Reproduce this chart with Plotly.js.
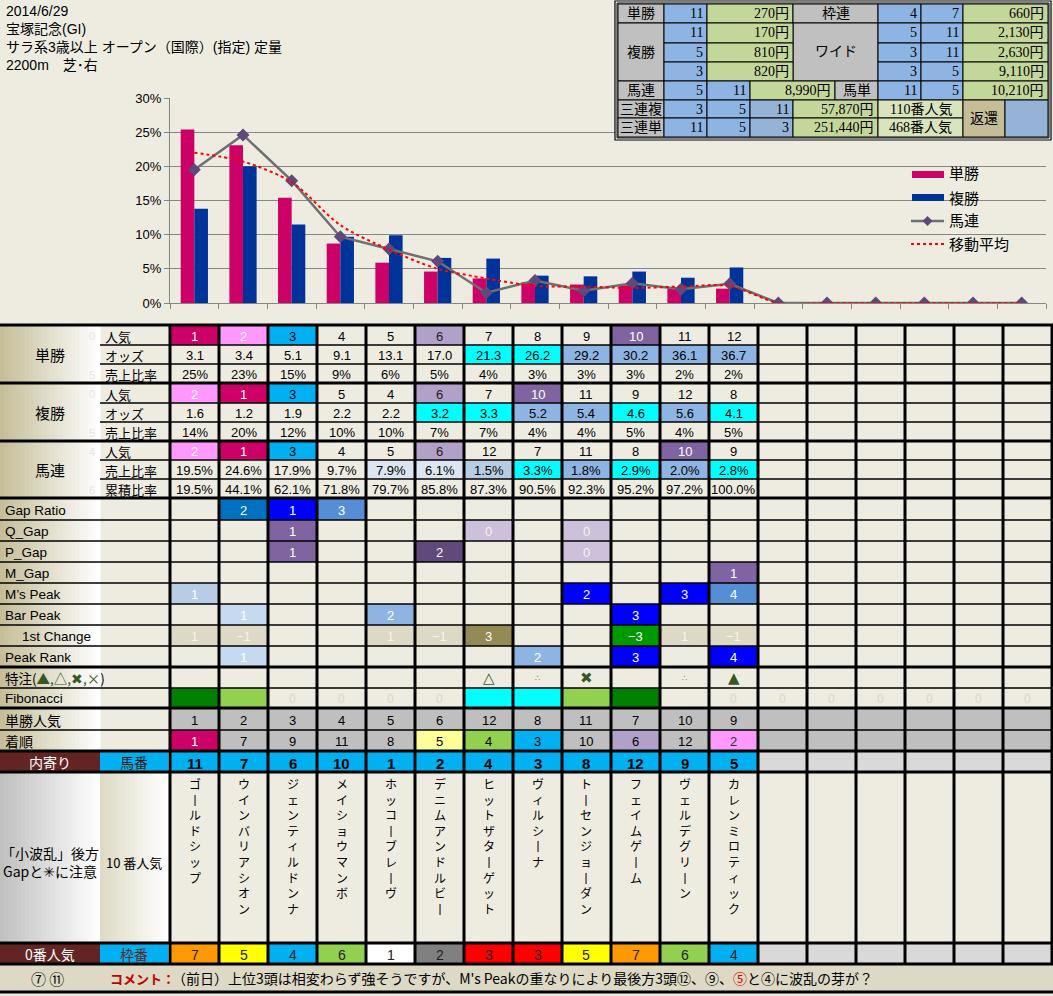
<!DOCTYPE html>
<html>
<head>
<meta charset="utf-8">
<script src="https://cdn.plot.ly/plotly-3.0.1.min.js"></script>
<style>body{margin:0;background:#eeece1}</style>
</head>
<body>
<div id="plotArea" style="width:1053px;height:996px"></div>
<script>
// race header
var header = ["2014/6/29", "宝塚記念(GI)", "サラ系3歳以上 オープン（国際）(指定) 定量", "2200m　芝･右"];

// chart data (18 slots, 12 runners)
var cats = ["1","2","3","4","5","6","7","8","9","10","11","12","13","14","15","16","17","18"];
var tanShare = [25.4, 23.1, 15.4, 8.7, 5.9, 4.6, 3.6, 3.0, 2.7, 2.6, 2.3, 2.1];
var fukuShare = [13.8, 20.0, 11.5, 9.7, 9.9, 6.6, 6.5, 4.0, 3.9, 4.6, 3.7, 5.2];
var umaShare = [19.5, 24.6, 17.9, 9.7, 7.9, 6.1, 1.5, 3.3, 1.8, 2.9, 2.0, 2.8];
var umaLine = [19.5, 24.6, 17.9, 9.7, 7.9, 6.1, 1.5, 3.3, 1.8, 2.9, 2.0, 2.8, 0, 0, 0, 0, 0, 0];
var trend = [22.0, 20.7, 17.7, 11.4, 7.8, 5.0, 3.6, 2.5, 2.4, 2.2, 2.4, 2.5, 0, 0, 0, 0, 0, 0];

// table data
var tanNinki = [1, 2, 3, 4, 5, 6, 7, 8, 9, 10, 11, 12];
var tanOdds = [3.1, 3.4, 5.1, 9.1, 13.1, 17.0, 21.3, 26.2, 29.2, 30.2, 36.1, 36.7];
var fukuNinki = [2, 1, 3, 5, 4, 6, 7, 10, 11, 9, 12, 8];
var fukuOdds = [1.6, 1.2, 1.9, 2.2, 2.2, 3.2, 3.3, 5.2, 5.4, 4.6, 5.6, 4.1];
var umaNinki = [2, 1, 3, 4, 5, 6, 12, 7, 11, 8, 10, 9];
var umaCum = [19.5, 44.1, 62.1, 71.8, 79.7, 85.8, 87.3, 90.5, 92.3, 95.2, 97.2, 100.0];
var umaShareColors = ["", "", "", "", "#dce6f1", "#dce6f1", "#b8cce4", "#00ffff", "#8db4e2", "#00ffff", "#8db4e2", "#00ffff"];

var gapLabels = ["Gap Ratio", "Q_Gap", "P_Gap", "M_Gap", "M’s Peak", "Bar Peak", "1st Change", "Peak Rank"];
var gapRatio = ["", "2", "1", "3", "", "", "", "", "", "", "", ""];
var qGap = ["", "", "1", "", "", "", "0", "", "0", "", "", ""];
var pGap = ["", "", "1", "", "", "2", "", "", "0", "", "", ""];
var mGap = ["", "", "", "", "", "", "", "", "", "", "", "1"];
var msPeak = ["1", "", "", "", "", "", "", "", "2", "", "3", "4"];
var barPeak = ["", "1", "", "", "2", "", "", "", "", "3", "", ""];
var firstChange = ["1", "−1", "", "", "1", "−1", "3", "", "", "−3", "1", "−1"];
var peakRank = ["", "1", "", "", "", "", "", "2", "", "3", "", "4"];
var gapRatioC = ["", "#0070c0", "#0000ff", "#558ed5", "", "", "", "", "", "", "", ""];
var qGapC = ["", "", "#8064a2", "", "", "", "#ccc0da", "", "#ccc0da", "", "", ""];
var pGapC = ["", "", "#8064a2", "", "", "#604a7b", "", "", "#ccc0da", "", "", ""];
var mGapC = ["", "", "", "", "", "", "", "", "", "", "", "#8064a2"];
var msPeakC = ["#b8cce4", "", "", "", "", "", "", "", "#0000ff", "", "#0000ff", "#558ed5"];
var barPeakC = ["", "#c5d9f1", "", "", "#8db4e2", "", "", "", "", "#0000ff", "", ""];
var firstChangeC = ["#ddd9c4", "#ddd9c4", "", "", "#ddd9c4", "#ddd9c4", "#948a54", "", "", "#009900", "#ddd9c4", "#ddd9c4"];
var peakRankC = ["", "#c5d9f1", "", "", "", "", "", "#8db4e2", "", "#0000ff", "", "#0000ff"];

var tokuchu = ["", "", "", "", "", "", "△", "∴", "✖", "", "∴", "▲"];
var fibo = ["#008000", "#92d050", "0", "0", "0", "0", "#00ffff", "#00ffff", "#92d050", "#008000", "", "0", "0", "0", "0", "0", "0", "0"];

var tanPop = [1, 2, 3, 4, 5, 6, 12, 8, 11, 7, 10, 9];
var finish = [1, 7, 9, 11, 8, 5, 4, 3, 10, 6, 12, 2];
var umaban = [11, 7, 6, 10, 1, 2, 4, 3, 8, 12, 9, 5];
var horseNames = ["ゴールドシップ", "ウインバリアシオン", "ジェンティルドンナ", "メイショウマンボ", "ホッコーブレーヴ", "デニムアンドルビー",
  "ヒットザターゲット", "ヴィルシーナ", "トーセンジョーダン", "フェイムゲーム", "ヴェルデグリーン", "カレンミロティック"];
var wakuban = [7, 5, 4, 6, 1, 2, 3, 3, 5, 7, 6, 4];

// payouts
var fukuNums = ["11", "5", "3"];
var fukuPays = ["170円", "810円", "820円"];
var wideA = ["5", "3", "3"];
var wideB = ["11", "11", "5"];
var widePays = ["2,130円", "2,630円", "9,110円"];

var comment = "（前日）上位3頭は相変わらず強そうですが、M's Peakの重なりにより最後方3頭⑫、⑨、<span style='color:#e00000'>⑤</span>と④に波乱の芽が？";

var W = 1053, H = 996;
var SANS = "'Liberation Sans','Noto Sans CJK JP',sans-serif";
var JP = "'Noto Sans CJK JP',sans-serif";
var SERIF = "'Liberation Serif','Noto Sans CJK JP',serif";
var SYM = "'DejaVu Sans','Noto Sans CJK JP',sans-serif";
var shapes = [], annos = [];

function px(x) { return x / W; }
function py(y) { return 1 - y / H; }
function box(x0, y0, x1, y1, fill, lw) {
  shapes.push({type: "rect", xref: "paper", yref: "paper", x0: px(x0), x1: px(x1), y0: py(y1), y1: py(y0),
    fillcolor: fill, line: {width: lw || 0, color: "#000"}, layer: "above"});
}
function seg(x0, y0, x1, y1, w, c, dash) {
  shapes.push({type: "line", xref: "paper", yref: "paper", x0: px(x0), y0: py(y0), x1: px(x1), y1: py(y1),
    line: {color: c || "#000", width: w, dash: dash || "solid"}, layer: "above"});
}
function txt(x, y, s, size, color, anchor, family, vanchor) {
  annos.push({xref: "paper", yref: "paper", x: px(x), y: py(y), text: s, showarrow: false,
    xanchor: anchor || "center", yanchor: vanchor || "middle", font: {size: size, color: color || "#000", family: family || SANS}});
}
function hex(c) { return [parseInt(c.substr(1, 2), 16), parseInt(c.substr(3, 2), 16), parseInt(c.substr(5, 2), 16)]; }
function grad(x0, y0, x1, y1, c0, c1, n) {
  var a = hex(c0), b = hex(c1);
  for (var k = 0; k < n; k++) {
    var t = (k + 0.5) / n;
    var c = "rgb(" + [0, 1, 2].map(function (j) { return Math.round(a[j] + (b[j] - a[j]) * t); }).join(",") + ")";
    box(x0 + (x1 - x0) * k / n, y0, x0 + (x1 - x0) * (k + 1) / n + 0.6, y1, c);
  }
}

// header text
header.forEach(function (s, i) { txt(4, 11 + i * 18, s, 14, "#000", "left", SANS); });

// custom legend
box(912, 171, 944, 178, "#cc0066");
box(912, 194, 944, 201, "#003399");
seg(911, 221, 944, 221, 2.5, "#6f6f6f");
shapes.push({type: "path", xref: "paper", yref: "paper", layer: "above", fillcolor: "#5f497a", line: {width: 0},
  path: "M" + px(927.5) + "," + py(216) + " L" + px(932.5) + "," + py(221) + " L" + px(927.5) + "," + py(226) + " L" + px(922.5) + "," + py(221) + " Z"});
seg(911, 244, 944, 244, 2, "#ff0000", "dot");
txt(947, 173, "単勝", 15, "#000", "left", JP);
txt(947, 197, "複勝", 15, "#000", "left", JP);
txt(947, 220, "馬連", 15, "#000", "left", JP);
txt(947, 243, "移動平均", 15, "#000", "left", JP);

// payout table
var PC = [618, 664, 707, 750, 793, 835, 878, 921, 963, 1005, 1048];
var PR = [4, 23, 43, 62, 81, 100, 118, 137];
var GRAY = "#c0c0c0", BLUE = "#8db4e2", BLUE2 = "#95b3d7", GREEN = "#c4d79b", LGREEN = "#d8e4bc", TAN = "#c4bd97";
box(615, 1, 1051, 140, "#ffffff", 1.2);
box(617, 3, 1049, 138, "#eeece1", 1);
function pcell(c0, c1, r0, r1, fill, s, align) {
  box(PC[c0], PR[r0], PC[c1], PR[r1], fill, 1);
  if (!s) return;
  var ym = (PR[r0] + PR[r1]) / 2;
  if (align === "r") txt(PC[c1] - 2, ym, s, 14, "#000", "right", SERIF);
  else txt((PC[c0] + PC[c1]) / 2, ym, s, 14, "#000", "center", SERIF);
}
pcell(0, 1, 0, 1, GRAY, "単勝"); pcell(1, 2, 0, 1, BLUE, "11", "r"); pcell(2, 4, 0, 1, GREEN, "270円", "r");
pcell(4, 6, 0, 1, GRAY, "枠連"); pcell(6, 7, 0, 1, BLUE, "4", "r"); pcell(7, 8, 0, 1, BLUE, "7", "r"); pcell(8, 10, 0, 1, GREEN, "660円", "r");
pcell(0, 1, 1, 4, GRAY, "複勝"); pcell(4, 6, 1, 4, GRAY, "ワイド");
for (var i = 0; i < 3; i++) {
  pcell(1, 2, 1 + i, 2 + i, BLUE, fukuNums[i], "r");
  pcell(2, 4, 1 + i, 2 + i, GREEN, fukuPays[i], "r");
  pcell(6, 7, 1 + i, 2 + i, BLUE, wideA[i], "r");
  pcell(7, 8, 1 + i, 2 + i, BLUE, wideB[i], "r");
  pcell(8, 10, 1 + i, 2 + i, GREEN, widePays[i], "r");
}
pcell(0, 1, 4, 5, GRAY, "馬連"); pcell(1, 2, 4, 5, BLUE, "5", "r"); pcell(2, 3, 4, 5, BLUE, "11", "r");
pcell(3, 5, 4, 5, GREEN, "8,990円", "r"); pcell(5, 6, 4, 5, GRAY, "馬単"); pcell(6, 7, 4, 5, BLUE, "11", "r");
pcell(7, 8, 4, 5, BLUE, "5", "r"); pcell(8, 10, 4, 5, GREEN, "10,210円", "r");
pcell(0, 1, 5, 6, GRAY, "三連複"); pcell(1, 2, 5, 6, BLUE, "3", "r"); pcell(2, 3, 5, 6, BLUE, "5", "r");
pcell(3, 4, 5, 6, BLUE2, "11", "r"); pcell(4, 6, 5, 6, GREEN, "57,870円", "r"); pcell(6, 8, 5, 6, LGREEN, "110番人気");
pcell(0, 1, 6, 7, GRAY, "三連単"); pcell(1, 2, 6, 7, BLUE, "11", "r"); pcell(2, 3, 6, 7, BLUE, "5", "r");
pcell(3, 4, 6, 7, BLUE2, "3", "r"); pcell(4, 6, 6, 7, GREEN, "251,440円", "r"); pcell(6, 8, 6, 7, LGREEN, "468番人気");
pcell(8, 9, 5, 7, TAN, "返還"); pcell(9, 10, 5, 7, BLUE2, "");

// main table geometry
var TX0 = 170, TW = 49, NC = 18;
function cx(i) { return TX0 + TW * (i + 0.5); }
function cell(i, y0, y1, color) { box(TX0 + TW * i, y0, TX0 + TW * (i + 1), y1, color); }
var ninkiColor = {1: ["#cc0066", "#ffffff"], 2: ["#ff99ff", "#ffffff"], 3: ["#00b0f0", "#000000"], 6: ["#b1a0c7", "#222222"], 10: ["#8064a2", "#ffffff"]};
var finishColor = {1: ["#cc0066", "#ffffff"], 2: ["#ff99ff", "#333333"], 3: ["#00b0f0", "#000000"], 4: ["#92d050", "#000000"], 5: ["#ffff99", "#000000"], 6: ["#b1a0c7", "#000000"]};
var wakuColor = {1: "#ffffff", 2: "#808080", 3: "#ff0000", 4: "#00b0f0", 5: "#ffff00", 6: "#92d050", 7: "#ff9900", 8: "#ff99ff"};
function tanOddsColor(v) { return v >= 28 ? "#8db4e2" : v >= 20 ? "#00ffff" : ""; }
function fukuOddsColor(v) { return v >= 5 ? "#8db4e2" : v >= 3 ? "#00ffff" : ""; }

// label backgrounds
grad(0, 325, 100, 498, "#c4bd97", "#ffffff", 24);
grad(0, 498, 100, 708, "#c4bd97", "#ffffff", 24);
grad(0, 708, 100, 751, "#c4bd97", "#ffffff", 24);
box(0, 751, 100, 772, "#632523"); box(100, 751, 168, 772, "#00b0f0");
grad(0, 772, 100, 943, "#bfbfbf", "#ffffff", 24);
grad(100, 772, 168, 943, "#ddd9c4", "#ffffff", 16);
box(0, 943, 100, 964, "#632523"); box(100, 943, 168, 964, "#00b0f0");
box(0, 964, W, 992, "#ddd9c4");

// sections 単勝 / 複勝 / 馬連
var secNames = ["単勝", "複勝", "馬連"];
var subNames = [["人気", "オッズ", "売上比率"], ["人気", "オッズ", "売上比率"], ["人気", "売上比率", "累積比率"]];
var faint = [["0", "", "5"], ["0", "", "5"], ["4", "", "6"]];
var rowY = [[325, 345, 364, 383], [383, 403, 422, 441], [441, 460, 479, 498]];
for (var s = 0; s < 3; s++) {
  txt(50, (rowY[s][0] + rowY[s][3]) / 2, secNames[s], 15, "#000", "center", JP);
  for (var r = 0; r < 3; r++) {
    var ym = (rowY[s][r] + rowY[s][r + 1]) / 2 + 1;
    txt(103, ym, subNames[s][r], 13, "#000", "left", JP);
    if (faint[s][r]) txt(92, ym, faint[s][r], 11, "#e8e6dc", "center", SANS);
  }
}
function ninkiRow(arr, y0, y1) {
  arr.forEach(function (v, i) {
    var nc = ninkiColor[v];
    if (nc) cell(i, y0, y1, nc[0]);
    txt(cx(i), (y0 + y1) / 2 + 1, String(v), 13, nc ? nc[1] : "#000");
  });
}
function valueRow(arr, y0, y1, fmt, colorFn) {
  arr.forEach(function (v, i) {
    var c = colorFn ? colorFn(v, i) : "";
    if (c) cell(i, y0, y1, c);
    txt(cx(i), (y0 + y1) / 2 + 1, fmt(v), 13, "#000");
  });
}
ninkiRow(tanNinki, 325, 345);
valueRow(tanOdds, 345, 364, function (v) { return v.toFixed(1); }, tanOddsColor);
valueRow(tanShare, 364, 383, function (v) { return Math.round(v) + "%"; });
ninkiRow(fukuNinki, 383, 403);
valueRow(fukuOdds, 403, 422, function (v) { return v.toFixed(1); }, fukuOddsColor);
valueRow(fukuShare, 422, 441, function (v) { return Math.round(v) + "%"; });
ninkiRow(umaNinki, 441, 460);
valueRow(umaShare, 460, 479, function (v) { return v.toFixed(1) + "%"; }, function (v, i) { return umaShareColors[i]; });
valueRow(umaCum, 479, 498, function (v) { return v.toFixed(1) + "%"; });

// gap rows
var gapY = [498, 520, 541, 562, 583, 604, 625, 646, 667, 688, 708];
var gapVals = [gapRatio, qGap, pGap, mGap, msPeak, barPeak, firstChange, peakRank];
var gapCols = [gapRatioC, qGapC, pGapC, mGapC, msPeakC, barPeakC, firstChangeC, peakRankC];
gapLabels.forEach(function (lab, k) {
  var y0 = gapY[k], y1 = gapY[k + 1], ym = (y0 + y1) / 2 + 1;
  txt(lab === "1st Change" ? 20 : 3, ym, lab, 13.5, "#000", "left", SANS);
  gapVals[k].forEach(function (v, i) {
    var c = gapCols[k][i];
    if (c) cell(i, y0, y1, c);
    if (v) {
      var tc = (c === "#ddd9c4" || c === "#ccc0da") ? "#f6f4ee" : "#ffffff";
      txt(cx(i), ym, v, 13, tc);
    }
  });
});
// 特注
txt(3, 678, "特注(<span style='color:#375623'>▲,△,✖,×</span>)", 13.5, "#000", "left", JP);
tokuchu.forEach(function (v, i) {
  if (!v) return;
  var sm = v === "∴";
  txt(cx(i), 678, v, sm ? 9 : 15, sm ? "#948a54" : "#375623", "center", SYM);
});
// Fibonacci
txt(3, 698.5, "Fibonacci", 13.5, "#000", "left", SANS);
fibo.forEach(function (v, i) {
  if (v.charAt(0) === "#") cell(i, 688, 708, v);
  else if (v) txt(cx(i), 699, v, 12, "#d8d5c6");
});

// 単勝人気 / 着順
txt(3, 720, "単勝人気", 14, "#000", "left", JP);
txt(3, 741, "着順", 14, "#000", "left", JP);
for (var c = 0; c < NC; c++) { cell(c, 708, 751, "#bfbfbf"); }
tanPop.forEach(function (v, i) { txt(cx(i), 720, String(v), 13, "#000"); });
finish.forEach(function (v, i) {
  var fc = finishColor[v];
  if (fc) cell(i, 730, 751, fc[0]);
  txt(cx(i), 741, String(v), 13, fc ? fc[1] : "#000");
});

// 馬番
txt(50, 762, "内寄り", 14, "#ffffff", "center", JP);
txt(134, 762, "馬番", 14, "#3a1a10", "center", JP);
for (c = 0; c < NC; c++) { cell(c, 751, 772, c < 12 ? "#00b0f0" : "#d9d9d9"); }
umaban.forEach(function (v, i) { txt(cx(i), 763, "<b>" + v + "</b>", 15, "#000", "center", SANS); });

// names (vertical, one glyph per line)
txt(50, 853, "「小波乱」後方", 14, "#000", "center", JP);
txt(50, 871, "Gapと<span style='font-family:DejaVu Sans'>✳</span>に注意", 14, "#000", "center", JP);
txt(134, 862, "10 番人気", 13, "#000", "center", JP);
horseNames.forEach(function (nm, i) {
  var vert = Array.from(nm).map(function (ch) { return ch === "ー" ? "丨" : ch; }).join("<br>");
  txt(cx(i), 773, vert, 12, "#000", "center", JP, "top");
});

// 枠番
txt(50, 954, "0番人気", 14, "#ffffff", "center", JP);
txt(134, 954, "枠番", 14, "#632523", "center", JP);
for (c = 0; c < NC; c++) { cell(c, 943, 964, c < 12 ? wakuColor[wakuban[c]] : "#d9d9d9"); }
wakuban.forEach(function (v, i) { txt(cx(i), 955, String(v), 14, "#222"); });

// comment row
txt(47, 978, "⑦ ⑪", 15, "#000", "center", JP);
txt(108, 978, "<b>コメント：</b>", 13, "#c00000", "left", JP);
txt(170, 978, comment, 14, "#000", "left", JP);

// grid lines
var thick = [325, 383, 441, 498, 667, 708, 751, 772, 943, 964, 992];
var thinSub = [345, 364, 403, 422, 460, 479];
var thinFull = [520, 541, 562, 583, 604, 625, 646, 688, 730];
thinSub.forEach(function (y) { seg(100, y, W, y, 1.5); });
thinFull.forEach(function (y) { seg(0, y, W, y, 1.5); });
for (c = 0; c <= NC; c++) { seg(TX0 + TW * c, 325, TX0 + TW * c, 964, 3); }
thick.forEach(function (y) { seg(0, y, W, y, 3); });

var traces = [
  {x: cats.slice(0, 12), y: tanShare, type: "bar", name: "単勝", marker: {color: "#cc0066"}},
  {x: cats.slice(0, 12), y: fukuShare, type: "bar", name: "複勝", marker: {color: "#003399"}},
  {x: cats, y: umaLine, type: "scatter", mode: "lines+markers", name: "馬連",
    line: {color: "#6f6f6f", width: 2.5}, marker: {symbol: "diamond", size: 10, color: "#5f497a"}},
  {x: cats, y: trend, type: "scatter", mode: "lines", name: "移動平均",
    line: {color: "#ff0000", width: 2, dash: "dot", shape: "spline", smoothing: 0.8}}
];

var layout = {
  width: W, height: H,
  margin: {l: 0, r: 0, t: 0, b: 0},
  paper_bgcolor: "#eeece1", plot_bgcolor: "rgba(0,0,0,0)",
  font: {family: SANS, size: 13, color: "#000"},
  showlegend: false,
  barmode: "group", bargap: 0.44, bargroupgap: 0,
  xaxis: {domain: [170 / W, 1046 / W], type: "category", categoryorder: "array", categoryarray: cats,
    range: [-0.5, 17.5], showticklabels: false, ticks: "outside", tickson: "boundaries", ticklen: 5,
    tickcolor: "#868686", showline: true, linecolor: "#868686", linewidth: 1, showgrid: false, zeroline: false},
  yaxis: {domain: [1 - 303 / H, 1 - 98 / H], range: [0, 30], dtick: 5, ticksuffix: "%",
    showgrid: true, gridcolor: "#868686", gridwidth: 1, showline: true, linecolor: "#868686",
    ticks: "outside", ticklen: 5, tickcolor: "#868686", zeroline: false,
    tickfont: {size: 13, family: SANS, color: "#000"}},
  shapes: shapes,
  annotations: annos
};

Plotly.newPlot("plotArea", traces, layout, {displayModeBar: false, staticPlot: true});
</script>
</body>
</html>
